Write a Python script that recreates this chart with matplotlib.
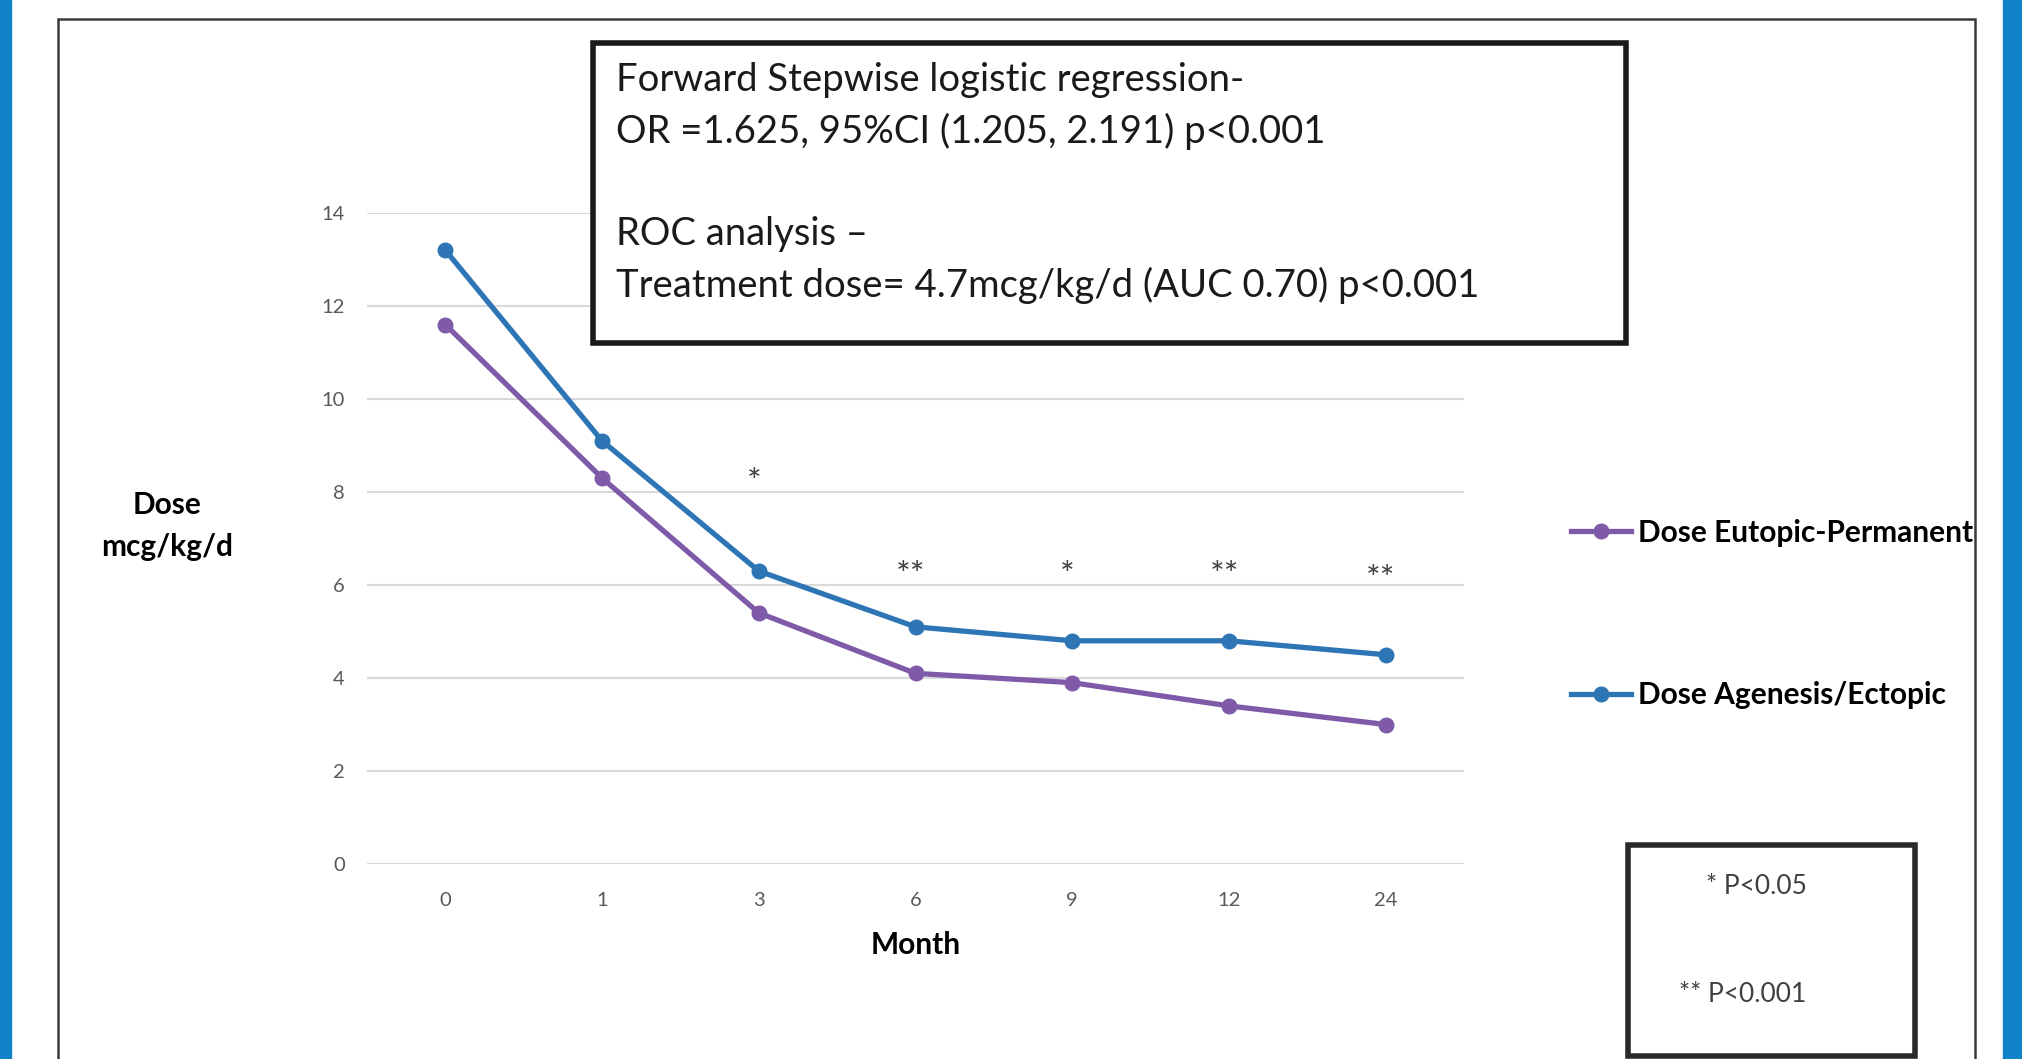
# Imports
import numpy as np
import pandas as pd
import matplotlib.pyplot as plt
from matplotlib.patches import Rectangle

# Data
months = ['0', '1', '3', '6', '9', '12', '24']
dose_eutopic = [11.6, 8.3, 5.4, 4.1, 3.9, 3.4, 3.0]
dose_agenesis = [13.2, 9.1, 6.3, 5.1, 4.8, 4.8, 4.5]
sig_marks = ['', '', '*', '**', '*', '**', '**']
sig_y = [0, 0, 8.2, 6.2, 6.2, 6.2, 6.1]

df = pd.DataFrame({'month': months, 'eutopic': dose_eutopic,
                   'agenesis': dose_agenesis, 'sig': sig_marks, 'sig_y': sig_y})

W, H = 2022, 1059
plt.rcParams['font.family'] = ['Lato', 'DejaVu Sans']

fig = plt.figure(figsize=(W / 100, H / 100), dpi=100)


def fx(px):
    return px / W


def fy(py):
    return 1 - py / H


# Blue side strips and outer frame
fig.patches.append(Rectangle((0, 0), fx(11), 1, transform=fig.transFigure,
                             color='#1083c8', zorder=0))
fig.patches.append(Rectangle((fx(2003), 0), fx(W - 2003), 1, transform=fig.transFigure,
                             color='#1083c8', zorder=0))
fig.patches.append(Rectangle((fx(58), fy(1080)), fx(1975 - 58), fy(19) - fy(1080),
                             transform=fig.transFigure, fill=False,
                             edgecolor='#3a3a3a', linewidth=1.8, zorder=1))

# Axes
ax = fig.add_axes([fx(367), fy(864), fx(1464 - 367), fy(213) - fy(864)])
x = np.arange(len(months))
ax.plot(x, df.eutopic, color='#7f5aa8', linewidth=3.8, marker='o', markersize=10.5,
        label='Dose Eutopic-Permanent')
ax.plot(x, df.agenesis, color='#2e75b6', linewidth=3.8, marker='o', markersize=10.5,
        label='Dose Agenesis/Ectopic')

for i, row in df.iterrows():
    if row.sig:
        ax.text(i - 0.03, row.sig_y, row.sig, ha='center', va='center',
                fontsize=25, color='#404040')

ax.set_xlim(-0.5, len(months) - 0.5)
ax.set_ylim(0, 14)
ax.set_yticks(range(0, 15, 2))
ax.set_xticks(x)
ax.set_xticklabels(months)
ax.tick_params(length=0, labelsize=14.5, labelcolor='#595959')
ax.tick_params(axis='y', pad=16)
ax.tick_params(axis='x', pad=20)
ax.grid(axis='y', color='#d9d9d9', linewidth=1.5)
ax.set_axisbelow(True)
for s in ax.spines.values():
    s.set_visible(False)

ax.set_xlabel('Month', fontsize=21.5, fontweight='bold', labelpad=16)
fig.text(fx(167), fy(526), 'Dose\nmcg/kg/d', ha='center', va='center',
         fontsize=21.5, fontweight='bold', linespacing=1.6)

# Legend
ax.legend(loc='center left', bbox_to_anchor=(fx(1571), fy(614)),
          bbox_transform=fig.transFigure, frameon=False,
          prop={'weight': 'bold', 'size': 21.5}, labelspacing=4.5,
          handlelength=2.0, handletextpad=0.25, borderpad=0, borderaxespad=0)

# Annotation box
fig.patches.append(Rectangle((fx(593), fy(343)), fx(1626 - 593), fy(43) - fy(343),
                             transform=fig.transFigure, fill=False,
                             edgecolor='#1a1a1a', linewidth=4, zorder=3))
fig.patches.append(Rectangle((fx(593), fy(343)), fx(1626 - 593), fy(43) - fy(343),
                             transform=fig.transFigure, color='white', zorder=2))
fig.text(fx(616), fy(183),
         'Forward Stepwise logistic regression-\n'
         'OR =1.625, 95%CI (1.205, 2.191) p<0.001\n\n'
         'ROC analysis \u2013\n'
         'Treatment dose= 4.7mcg/kg/d (AUC 0.70) p<0.001',
         ha='left', va='center', fontsize=27.5, color='#1a1a1a',
         linespacing=1.5, zorder=4)

# Significance key box
fig.patches.append(Rectangle((fx(1628), fy(1056)), fx(1915 - 1628), fy(845) - fy(1056),
                             transform=fig.transFigure, fill=False,
                             edgecolor='#2a2a2a', linewidth=4, zorder=3))
fig.text(fx(1756), fy(887), '* P<0.05', ha='center', va='center',
         fontsize=19, color='#404040')
fig.text(fx(1743), fy(995), '** P<0.001', ha='center', va='center',
         fontsize=19, color='#404040')

fig.savefig('out.png', dpi=100)
